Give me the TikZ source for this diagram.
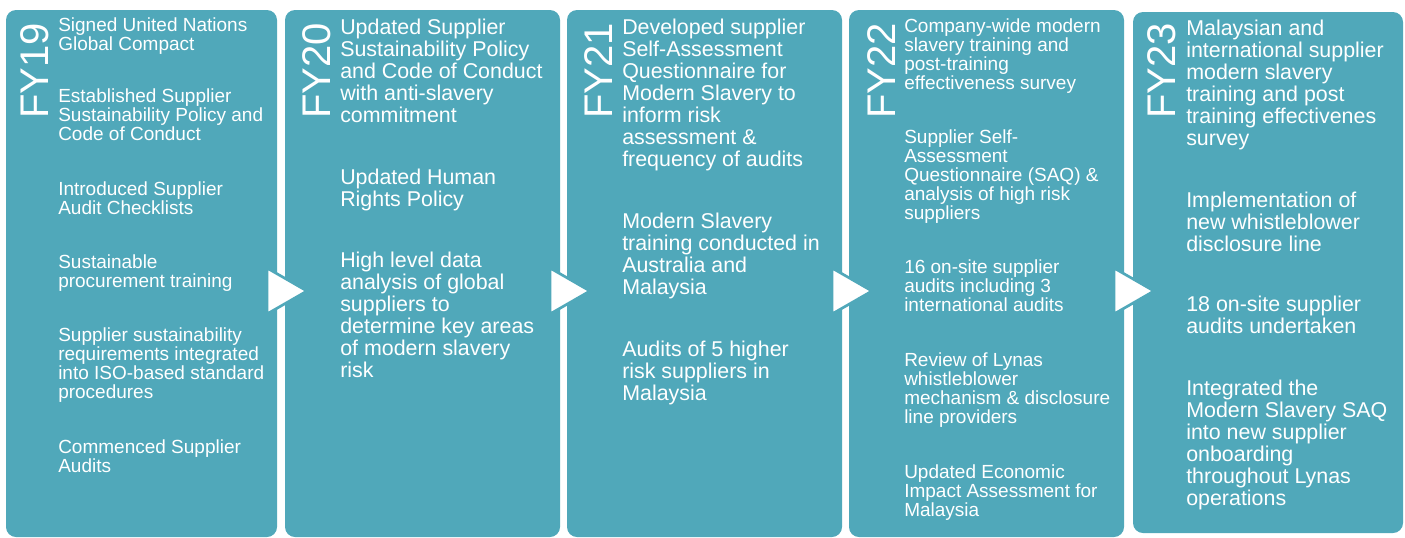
\documentclass[tikz,border=0pt]{standalone}
\usepackage{fontspec}
\setmainfont{Liberation Sans}
\definecolor{lynasteal}{RGB}{80,168,186}
\tikzset{
  panel/.style={fill=lynasteal, draw=none, rounded corners=7.5pt,
    inner sep=0pt, outer sep=0pt},
  yearlabel/.style={text=white, rotate=90, anchor=base west, inner sep=0pt,
    font=\fontsize{30}{30}\selectfont},
  smallnote/.style={text=white, anchor=north west, inner sep=0pt, align=left,
    font=\fontsize{14.25}{14.3}\selectfont},
  bignote/.style={text=white, anchor=north west, inner sep=0pt, align=left,
    font=\fontsize{16.05}{16.5}\selectfont},
  pointer/.style={fill=white, draw=lynasteal, line width=2pt, line join=miter}
}
\begin{document}
\begin{tikzpicture}[x=0.75pt,y=-0.75pt]
\useasboundingbox (0,0) rectangle (1405,537);

\node[panel, minimum width=203.25pt, minimum height=395.25pt] (p19) at (141.5,273.5) {};
\node[panel, minimum width=206.25pt, minimum height=395.25pt] (p20) at (422.5,273.5) {};
\node[panel, minimum width=206.25pt, minimum height=395.25pt] (p21) at (704.5,273.5) {};
\node[panel, minimum width=206.25pt, minimum height=395.25pt] (p22) at (986.5,273.5) {};
\node[panel, minimum width=202.5pt, minimum height=390.75pt] (p23) at (1268,272.5) {};

\path[pointer] ([shift={(-10,258)}]p19.north east) -- ([shift={(30,281)}]p19.north east)
  -- ([shift={(-10,304)}]p19.north east) -- cycle;
\path[pointer] ([shift={(-10,258)}]p20.north east) -- ([shift={(30,281)}]p20.north east)
  -- ([shift={(-10,304)}]p20.north east) -- cycle;
\path[pointer] ([shift={(-10,258)}]p21.north east) -- ([shift={(30,281)}]p21.north east)
  -- ([shift={(-10,304)}]p21.north east) -- cycle;
\path[pointer] ([shift={(-10,258)}]p22.north east) -- ([shift={(30,281)}]p22.north east)
  -- ([shift={(-10,304)}]p22.north east) -- cycle;

\node[yearlabel] (fy19) at (48,119)   {FY19};
\node[yearlabel] (fy20) at (330,119)  {FY20};
\node[yearlabel] (fy21) at (612,119)  {FY21};
\node[yearlabel] (fy22) at (895,119)  {FY22};
\node[yearlabel] (fy23) at (1175,119) {FY23};

\node[smallnote] (a19) at (58,17.3)  {Signed United Nations\\Global Compact};
\node[smallnote] (b19) at (58,88.3)  {Established Supplier\\Sustainability Policy and\\Code of Conduct};
\node[smallnote] (c19) at (58,181.3) {Introduced Supplier\\Audit Checklists};
\node[smallnote] (d19) at (58,254.3) {Sustainable\\procurement training};
\node[smallnote] (e19) at (58,327.3) {Supplier sustainability\\requirements integrated\\into ISO-based standard\\procedures};
\node[smallnote] (f19) at (58,439.3) {Commenced Supplier\\Audits};

\node[bignote] (a20) at (340,18.6)  {Updated Supplier\\Sustainability Policy\\and Code of Conduct\\with anti-slavery\\commitment};
\node[bignote] (b20) at (340,168.6) {Updated Human\\Rights Policy};
\node[bignote] (c20) at (340,251.6) {High level data\\analysis of global\\suppliers to\\determine key areas\\of modern slavery\\risk};

\node[bignote] (a21) at (622,18.6)  {Developed supplier\\Self-Assessment\\Questionnaire for\\Modern Slavery to\\inform risk\\assessment \&\\frequency of audits};
\node[bignote] (b21) at (622,212.6) {Modern Slavery\\training conducted in\\Australia and\\Malaysia};
\node[bignote] (c21) at (622,341)   {Audits of 5 higher\\risk suppliers in\\Malaysia};

\node[smallnote] (a22) at (904,18.3)  {Company-wide modern\\slavery training and\\post-training\\effectiveness survey};
\node[smallnote] (b22) at (904,129.3) {Supplier Self-\\Assessment\\Questionnaire (SAQ) \&\\analysis of high risk\\suppliers};
\node[smallnote] (c22) at (904,259.3) {16 on-site supplier\\audits including 3\\international audits};
\node[smallnote] (d22) at (904,352.3) {Review of Lynas\\whistleblower\\mechanism \& disclosure\\line providers};
\node[smallnote] (e22) at (904,464.3) {Updated Economic\\Impact Assessment for\\Malaysia};

\node[bignote] (a23) at (1186,19.3)  {Malaysian and\\international supplier\\modern slavery\\training and post\\training effectivenes\\survey};
\node[bignote] (b23) at (1186,191.3) {Implementation of\\new whistleblower\\disclosure line};
\node[bignote] (c23) at (1186,295.3) {18 on-site supplier\\audits undertaken};
\node[bignote] (d23) at (1186,379.3) {Integrated the\\Modern Slavery SAQ\\into new supplier\\onboarding\\throughout Lynas\\operations};

\end{tikzpicture}
\end{document}
